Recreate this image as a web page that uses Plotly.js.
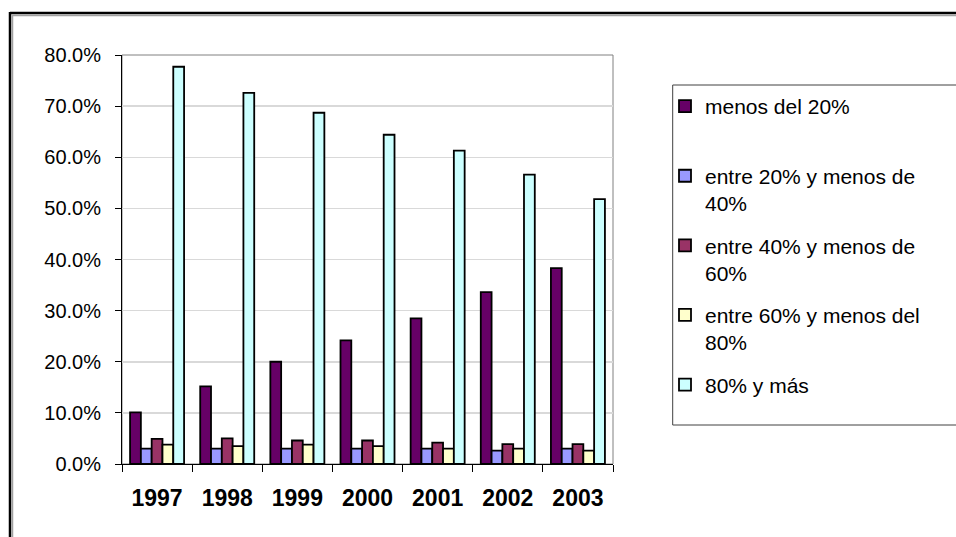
<!DOCTYPE html>
<html>
<head>
<meta charset="utf-8">
<script src="https://cdn.plot.ly/plotly-3.0.1.min.js"></script>
<style>html,body{margin:0;padding:0;background:#fff;}#chart{width:956px;height:537px;}</style>
</head>
<body>
<div id="chart"></div>
<script>
var years = ['1997', '1998', '1999', '2000', '2001', '2002', '2003'];
var seriesNames = ['menos del 20%<br> ', 'entre 20% y menos de<br>40%', 'entre 40% y menos de<br>60%', 'entre 60% y menos del<br>80%', '80% y más'];
var menos20 = [10.1, 15.2, 20.0, 24.2, 28.5, 33.6, 38.3];
var entre20y40 = [3.0, 3.0, 3.0, 3.0, 3.0, 2.6, 3.0];
var entre40y60 = [4.9, 5.0, 4.6, 4.6, 4.2, 3.9, 3.9];
var entre60y80 = [3.8, 3.5, 3.8, 3.5, 3.0, 3.0, 2.6];
var ochentaMas = [77.7, 72.6, 68.7, 64.4, 61.3, 56.6, 51.8];
var yTicks = [0, 10, 20, 30, 40, 50, 60, 70, 80];
var yTickLabels = ['0.0%', '10.0%', '20.0%', '30.0%', '40.0%', '50.0%', '60.0%', '70.0%', '80.0%'];

var colors = ['#660066', '#9999FF', '#993366', '#FFFFCC', '#CCFFFF'];
var values = [menos20, entre20y40, entre40y60, entre60y80, ochentaMas];
var FONT = 'Liberation Sans, Arial, sans-serif';

var traces = values.map(function (v, i) {
  return {
    type: 'bar', x: years, y: v, name: seriesNames[i], legendgroup: 'g' + i,
    marker: {color: colors[i], line: {color: '#000', width: 1.8}},
    hoverinfo: 'x+y'
  };
});

function px2x(p) { return (p - 122) / 491; }
function px2y(p) { return (464 - p) / 409; }

var layout = {
  width: 956, height: 537,
  margin: {l: 122, r: 343, t: 55, b: 73},
  paper_bgcolor: '#fff', plot_bgcolor: '#fff',
  font: {family: FONT, color: '#000'},
  barmode: 'group', bargap: 0.23, bargroupgap: 0,
  xaxis: {
    type: 'category', tickson: 'boundaries', ticks: 'outside', ticklen: 7, tickcolor: '#000',
    ticklabelstandoff: 13,
    showline: true, linecolor: '#000', linewidth: 1,
    tickfont: {family: FONT, size: 23, color: '#000', weight: 'bold'},
    showgrid: false, fixedrange: true
  },
  yaxis: {
    range: [0, 80], tickmode: 'array', tickvals: yTicks, ticktext: yTickLabels,
    ticks: 'outside', ticklen: 6, tickcolor: '#000', ticklabelstandoff: 10,
    showline: true, linecolor: '#000', linewidth: 1,
    gridcolor: '#d9d9d9', gridwidth: 1.5, zeroline: false,
    tickfont: {family: FONT, size: 20, color: '#000'}, fixedrange: true
  },
  showlegend: true,
  legend: {
    x: px2x(665), xanchor: 'left', y: px2y(86), yanchor: 'top',
    font: {family: FONT, size: 21, color: '#000'},
    bgcolor: 'rgba(0,0,0,0)', borderwidth: 0,
    tracegroupgap: 12, valign: 'top', traceorder: 'grouped'
  },
  shapes: [
    {type: 'rect', xref: 'x domain', yref: 'y domain', x0: 0, x1: 1, y0: 0, y1: 1,
     line: {color: '#808080', width: 1}, layer: 'below'},
    {type: 'rect', xref: 'paper', yref: 'paper', x0: px2x(672.7), x1: px2x(1000), y0: px2y(425), y1: px2y(85),
     line: {color: '#404040', width: 1}, fillcolor: 'rgba(0,0,0,0)', layer: 'below'},
    {type: 'line', xref: 'paper', yref: 'paper', x0: px2x(12), x1: px2x(1000), y0: px2y(15.5), y1: px2y(15.5),
     line: {color: '#a0a0a0', width: 1.5}},
    {type: 'line', xref: 'paper', yref: 'paper', x0: px2x(12.5), x1: px2x(12.5), y0: px2y(15), y1: px2y(600),
     line: {color: '#a0a0a0', width: 1.5}},
    {type: 'line', xref: 'paper', yref: 'paper', x0: px2x(10), x1: px2x(1000), y0: px2y(13), y1: px2y(13),
     line: {color: '#000', width: 2.5}},
    {type: 'line', xref: 'paper', yref: 'paper', x0: px2x(10), x1: px2x(10), y0: px2y(12), y1: px2y(600),
     line: {color: '#000', width: 2.5}}
  ]
};

Plotly.newPlot('chart', traces, layout, {displayModeBar: false, staticPlot: true});
</script>
</body>
</html>
